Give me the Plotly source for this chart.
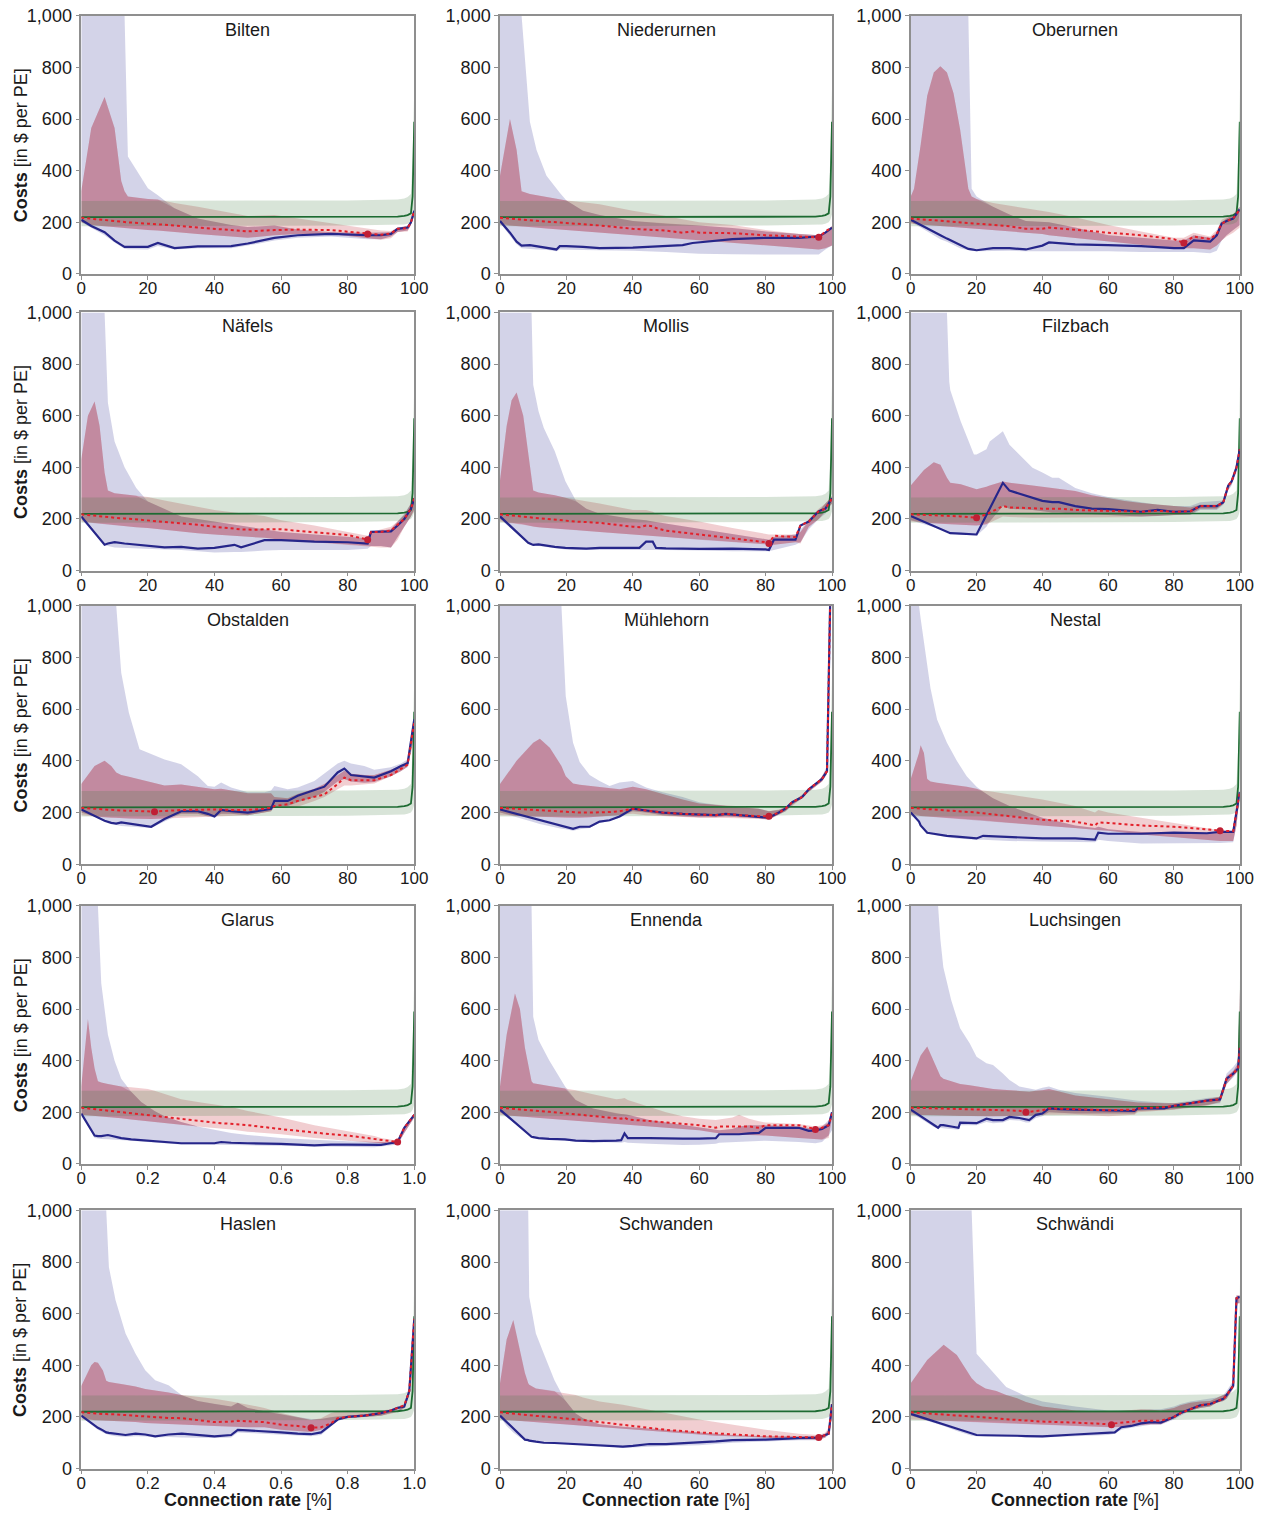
import plotly.graph_objects as go

TOWNS = ["Bilten", "Niederurnen", "Oberurnen", "Näfels", "Mollis", "Filzbach",
         "Obstalden", "Mühlehorn", "Nestal", "Glarus", "Ennenda", "Luchsingen",
         "Haslen", "Schwanden", "Schwändi"]
FRACTION_AXIS = ["Glarus", "Haslen"]

X_TICK_VALS = [0, 20, 40, 60, 80, 100]
X_TICKS_PCT = ["0", "20", "40", "60", "80", "100"]
X_TICKS_FRAC = ["0", "0.2", "0.4", "0.6", "0.8", "1.0"]
Y_TICK_VALS = [0, 200, 400, 600, 800, 1000]
Y_TICKS = ["0", "200", "400", "600", "800", "1,000"]

# connection rate grid (in %) per town
X = {
    "Bilten": [0, 3, 7, 10, 12, 13, 14, 20, 23, 28, 35, 45, 50, 58, 65, 75, 86, 90, 93, 95, 98, 99, 100],
    "Niederurnen": [0, 3, 5, 6.5, 9, 11, 14, 17, 18, 20, 25, 30, 40, 50, 55, 58, 60, 70, 80, 90, 96, 98, 100],
    "Oberurnen": [0, 1, 3, 5, 7, 9, 11, 13, 15, 16.5, 17.5, 18.5, 20, 25, 30, 35, 40, 42, 50, 60, 70, 80, 83, 86, 91, 93, 94.5, 96, 98, 100],
    "Näfels": [0, 2, 4, 5.5, 7, 8, 10, 13, 16.5, 20, 25, 30, 35, 40, 46, 48, 52, 55, 60, 70, 80, 86, 87, 90, 93, 95, 97, 99, 100],
    "Mollis": [0, 2, 3.5, 5, 7, 8.5, 9.5, 10, 11.6, 13.2, 16.5, 19.7, 23, 26, 30, 40, 42, 44, 46, 47, 50, 60, 70, 80, 81, 82.5, 89, 90.5, 93, 96, 98, 100],
    "Filzbach": [0, 4, 7, 9, 11, 11.7, 12, 15.2, 19.2, 20, 23, 24, 28, 30, 37, 40, 43, 45, 50, 55, 60, 65, 70, 75, 80, 85, 88, 93, 95, 96.5, 97.5, 99, 100],
    "Obstalden": [0, 4, 7, 9, 10.5, 12, 14.3, 17.5, 21, 25, 30, 35, 38, 40, 42, 45, 50, 55, 57, 58, 62, 65, 70, 73, 77, 79, 81, 85, 88, 93, 96, 98, 100],
    "Mühlehorn": [0, 5, 10, 12, 15, 18.5, 19.8, 21.5, 22, 24, 27, 30, 33, 36, 40, 44, 49, 55, 60, 65, 68, 72, 78, 81, 84, 86, 88, 91, 93, 95, 97, 98.5, 99.5, 100],
    "Nestal": [0, 2.5, 3, 4, 5, 6, 8, 11, 14, 17, 20, 22, 25, 30, 40, 50, 56, 57, 60, 70, 80, 90, 94, 98, 99, 100],
    "Glarus": [0, 2, 3, 4, 5, 6, 8, 10, 12, 15, 18, 20, 22, 25, 28, 30, 35, 40, 42, 45, 50, 60, 70, 75, 80, 88, 90, 92, 95, 97, 100],
    "Ennenda": [0, 2, 4.5, 6, 7.5, 9.5, 10, 11.6, 14.8, 19.6, 22.8, 28, 35, 36.5, 37.5, 38.5, 45, 50, 55, 60, 65, 66, 70, 72, 75, 78, 80, 90, 93, 95, 97, 99, 100],
    "Luchsingen": [0, 3, 5, 7, 8.3, 9, 9.9, 12.3, 14.5, 15, 17.9, 20, 23, 25, 28, 30, 33, 35, 36, 38, 40, 42, 45, 50, 60, 68, 69, 77, 80, 85, 90, 94, 96, 98, 99.5, 100],
    "Haslen": [0, 3, 4, 5, 6.5, 7.5, 8.3, 10.3, 13.3, 16.3, 19.2, 22.2, 26.2, 30.2, 35, 40, 45, 47, 50, 55, 60, 65, 69, 72, 75, 77, 80, 85, 90, 93, 95, 97, 98.5, 99, 100],
    "Schwanden": [0, 2, 4, 6, 7.5, 8.5, 8.8, 10.8, 13.2, 16.4, 19.6, 22.8, 25, 30, 37, 40, 45, 50, 60, 65, 70, 80, 90, 96, 98, 99, 100],
    "Schwändi": [0, 5, 10, 14, 17, 18.5, 20, 22.7, 26, 29, 32.3, 35, 40, 50, 60, 62, 64, 67, 70, 73, 76, 80, 82, 85, 88, 91, 93, 95, 96, 98, 99, 100],
}

# blue scenario: upper / lower band and central line (costs per PE)
BLUE_HI = {
    "Bilten": [1000, 1000, 1000, 1000, 1000, 1000, 455, 332, 305, 255, 215, 190, 182, 188, 172, 162, 160, 160, 162, 178, 188, 205, 255],
    "Niederurnen": [1000, 1000, 1000, 1000, 590, 480, 380, 330, 315, 285, 245, 228, 205, 195, 192, 190, 188, 178, 165, 155, 150, 160, 185],
    "Oberurnen": [1000, 1000, 1000, 1000, 1000, 1000, 1000, 1000, 1000, 1000, 1000, 330, 300, 260, 230, 205, 200, 200, 180, 150, 140, 130, 130, 150, 140, 160, 200, 215, 230, 260],
    "Näfels": [1000, 1000, 1000, 1000, 1000, 650, 500, 400, 320, 268, 240, 210, 200, 190, 178, 175, 168, 160, 150, 140, 130, 125, 150, 155, 160, 190, 220, 260, 285],
    "Mollis": [1000, 1000, 1000, 1000, 1000, 1000, 1000, 720, 617, 552, 462, 346, 268, 240, 220, 200, 198, 195, 190, 188, 180, 160, 140, 120, 120, 130, 140, 160, 190, 230, 260, 285],
    "Filzbach": [1000, 1000, 1000, 1000, 1000, 733, 700, 578, 450, 450, 470, 500, 540, 488, 398, 380, 360, 360, 320, 300, 285, 275, 265, 255, 250, 250, 265, 268, 272, 330, 350, 410, 480],
    "Obstalden": [1000, 1000, 1000, 1000, 1000, 740, 586, 445, 425, 405, 387, 340, 303, 300, 316, 297, 278, 278, 285, 303, 290, 297, 322, 350, 390, 400, 390, 380, 365, 375, 390, 406, 580],
    "Mühlehorn": [1000, 1000, 1000, 1000, 1000, 1000, 650, 496, 470, 395, 345, 322, 303, 316, 322, 297, 278, 260, 240, 230, 225, 220, 215, 205, 210, 220, 240, 265, 285, 305, 340, 380, 1000, 1000],
    "Nestal": [1000, 1000, 950, 860, 770, 680, 560, 470, 400, 340, 300, 280, 255, 225, 180, 150, 140, 145, 135, 125, 120, 120, 120, 125, 200, 285],
    "Glarus": [1000, 1000, 1000, 1000, 1000, 700, 500, 400, 330, 280, 240, 222, 205, 185, 170, 162, 145, 132, 128, 120, 112, 100, 94, 90, 88, 85, 85, 85, 88, 130, 195],
    "Ennenda": [1000, 1000, 1000, 1000, 1000, 1000, 570, 480, 402, 300, 248, 215, 195, 193, 192, 190, 170, 160, 150, 140, 130, 130, 135, 145, 150, 150, 150, 145, 140, 135, 145, 170, 205],
    "Luchsingen": [1000, 1000, 1000, 1000, 1000, 870, 762, 634, 540, 525, 467, 415, 390, 383, 350, 325, 300, 295, 293, 287, 295, 300, 287, 275, 260, 245, 245, 237, 235, 245, 255, 260, 350, 375, 400, 680],
    "Haslen": [1000, 1000, 1000, 1000, 1000, 1000, 780, 652, 523, 445, 381, 342, 323, 284, 262, 250, 240, 255, 235, 222, 210, 200, 192, 192, 200, 203, 205, 210, 215, 220, 225, 240, 300, 400, 600],
    "Schwanden": [1000, 1000, 1000, 1000, 1000, 1000, 665, 523, 445, 342, 265, 213, 195, 172, 162, 160, 155, 150, 140, 135, 130, 125, 125, 125, 135, 150, 250],
    "Schwändi": [1000, 1000, 1000, 1000, 1000, 1000, 445, 406, 355, 316, 297, 280, 260, 240, 225, 225, 225, 226, 228, 230, 230, 240, 250, 260, 265, 270, 275, 285, 300, 340, 670, 670],
}
BLUE_LO = {
    "Bilten": [200, 178, 150, 122, 108, 98, 96, 95, 108, 95, 100, 100, 110, 130, 140, 145, 135, 135, 145, 163, 168, 190, 230],
    "Niederurnen": [198, 150, 115, 100, 96, 95, 94, 88, 95, 95, 93, 92, 90, 85, 82, 80, 78, 76, 75, 75, 75, 95, 110],
    "Oberurnen": [200, 195, 180, 165, 150, 135, 125, 112, 100, 95, 92, 90, 88, 90, 90, 88, 88, 90, 90, 88, 85, 85, 85, 85, 80, 90, 130, 150, 170, 190],
    "Näfels": [200, 170, 140, 120, 100, 95, 90, 88, 86, 85, 82, 80, 75, 70, 72, 72, 75, 78, 80, 80, 80, 85, 95, 95, 90, 130, 170, 210, 240],
    "Mollis": [200, 178, 160, 145, 122, 105, 100, 98, 95, 92, 88, 82, 80, 80, 80, 80, 80, 82, 80, 80, 80, 78, 75, 75, 75, 80, 100, 110, 160, 200, 220, 260],
    "Filzbach": [195, 180, 168, 160, 150, 147, 145, 140, 135, 135, 170, 190, 250, 240, 235, 230, 225, 225, 220, 218, 215, 213, 210, 212, 215, 215, 235, 235, 255, 310, 330, 380, 440],
    "Obstalden": [200, 185, 170, 160, 152, 148, 146, 143, 140, 165, 195, 195, 185, 180, 195, 195, 190, 200, 205, 225, 225, 240, 260, 280, 320, 330, 320, 315, 318, 340, 360, 375, 500],
    "Mühlehorn": [200, 180, 163, 156, 146, 137, 135, 132, 130, 135, 140, 160, 168, 180, 205, 200, 190, 185, 182, 182, 185, 182, 178, 173, 192, 205, 230, 255, 280, 300, 320, 350, 1000, 1000],
    "Nestal": [200, 160, 150, 135, 120, 115, 110, 105, 100, 97, 95, 95, 93, 90, 88, 85, 85, 95, 90, 80, 80, 80, 82, 85, 150, 270],
    "Glarus": [190, 150, 125, 100, 98, 97, 96, 95, 92, 90, 87, 85, 82, 80, 77, 75, 75, 75, 75, 73, 72, 70, 68, 67, 65, 65, 67, 70, 75, 120, 180],
    "Ennenda": [200, 180, 155, 140, 125, 105, 103, 100, 95, 90, 88, 85, 82, 82, 85, 82, 78, 75, 73, 74, 78, 82, 85, 85, 88, 90, 90, 85, 82, 80, 85, 110, 130],
    "Luchsingen": [200, 175, 158, 143, 137, 140, 138, 135, 132, 150, 150, 150, 162, 158, 160, 170, 168, 160, 160, 178, 185, 200, 198, 195, 195, 195, 205, 210, 212, 220, 228, 235, 310, 335, 360, 380],
    "Haslen": [200, 170, 160, 150, 140, 135, 130, 125, 122, 125, 124, 120, 122, 120, 118, 118, 120, 140, 138, 135, 130, 127, 125, 130, 165, 185, 195, 200, 205, 215, 220, 235, 290, 380, 550],
    "Schwanden": [200, 165, 140, 120, 112, 110, 108, 104, 100, 98, 95, 93, 92, 90, 80, 82, 85, 87, 90, 95, 100, 105, 110, 110, 120, 130, 200],
    "Schwändi": [205, 185, 165, 145, 132, 127, 125, 124, 123, 122, 121, 120, 120, 125, 130, 135, 150, 158, 165, 170, 170, 190, 205, 225, 235, 240, 255, 262, 270, 310, 640, 640],
}
BLUE_MID = {
    "Bilten": [210, 186, 162, 129, 113, 105, 105, 105, 120, 100, 107, 108, 118, 140, 150, 155, 150, 150, 155, 175, 180, 200, 245],
    "Niederurnen": [205, 160, 125, 110, 112, 108, 103, 95, 108, 108, 105, 100, 102, 108, 112, 120, 122, 135, 140, 140, 145, 160, 180],
    "Oberurnen": [210, 203, 190, 177, 163, 150, 137, 125, 112, 103, 97, 95, 92, 100, 100, 95, 110, 122, 115, 112, 108, 100, 100, 130, 125, 150, 195, 205, 215, 250],
    "Näfels": [210, 178, 147, 123, 100, 105, 110, 105, 100, 95, 90, 92, 85, 88, 100, 90, 105, 118, 118, 112, 110, 105, 150, 150, 152, 175, 200, 240, 280],
    "Mollis": [210, 186, 168, 151, 126, 108, 102, 100, 102, 98, 92, 88, 86, 85, 88, 88, 88, 112, 112, 88, 86, 84, 85, 82, 80, 120, 120, 175, 190, 230, 240, 280],
    "Filzbach": [212, 190, 174, 163, 152, 148, 145, 143, 140, 140, 215, 240, 340, 310, 280, 270, 265, 265, 250, 240, 238, 232, 228, 235, 228, 230, 250, 250, 265, 330, 345, 400, 470],
    "Obstalden": [212, 185, 168, 160, 157, 162, 157, 150, 145, 175, 205, 205, 195, 185, 210, 205, 200, 210, 215, 245, 245, 265, 285, 300, 355, 370, 345, 340, 335, 360, 380, 390, 560],
    "Mühlehorn": [212, 195, 178, 171, 161, 149, 145, 139, 137, 145, 145, 165, 170, 185, 215, 208, 200, 195, 192, 190, 195, 190, 185, 180, 200, 215, 240, 260, 290, 310, 330, 360, 1050, 1100],
    "Nestal": [200, 165, 150, 135, 122, 120, 115, 110, 107, 103, 100, 110, 108, 105, 100, 100, 95, 122, 118, 118, 122, 120, 125, 125, 200, 280],
    "Glarus": [195, 150, 130, 110, 108, 108, 112, 105, 100, 95, 92, 90, 87, 85, 82, 80, 80, 80, 85, 82, 80, 78, 72, 75, 75, 72, 74, 78, 85, 140, 190],
    "Ennenda": [210, 188, 160, 143, 126, 105, 104, 100, 97, 95, 90, 88, 90, 92, 118, 100, 100, 98, 98, 98, 100, 115, 115, 115, 118, 120, 140, 140, 128, 130, 135, 150, 200],
    "Luchsingen": [210, 185, 168, 151, 140, 150, 150, 145, 140, 160, 158, 158, 175, 170, 170, 182, 178, 172, 170, 190, 195, 215, 212, 210, 208, 205, 215, 215, 225, 235, 245, 250, 330, 350, 370, 450],
    "Haslen": [205, 175, 165, 158, 148, 140, 138, 135, 130, 135, 132, 125, 132, 135, 130, 125, 130, 150, 148, 145, 140, 135, 133, 140, 170, 190, 200, 205, 215, 225, 235, 240, 300, 400, 580],
    "Schwanden": [205, 180, 155, 130, 112, 110, 108, 104, 100, 99, 97, 96, 95, 92, 85, 88, 95, 95, 100, 105, 110, 112, 118, 120, 130, 135, 250],
    "Schwändi": [212, 192, 171, 155, 142, 136, 130, 129, 129, 128, 127, 126, 125, 132, 138, 140, 160, 165, 175, 180, 178, 200, 215, 230, 245, 250, 260, 270, 285, 320, 660, 665],
}

# red scenario: upper / lower band and dotted central line
RED_HI = {
    "Bilten": [320, 565, 685, 565, 360, 320, 300, 290, 288, 275, 260, 235, 225, 228, 215, 195, 175, 168, 166, 180, 186, 205, 252],
    "Niederurnen": [380, 600, 480, 320, 310, 305, 298, 292, 290, 285, 278, 270, 245, 225, 212, 205, 200, 190, 170, 155, 150, 160, 185],
    "Oberurnen": [300, 330, 500, 690, 780, 805, 780, 700, 560, 420, 330, 300, 290, 275, 265, 255, 245, 240, 220, 190, 165, 140, 140, 160, 145, 170, 210, 220, 230, 260],
    "Näfels": [430, 600, 655, 560, 380, 310, 300, 295, 290, 285, 272, 260, 248, 235, 225, 222, 216, 212, 195, 175, 150, 135, 150, 160, 170, 190, 215, 260, 290],
    "Mollis": [350, 560, 660, 690, 600, 450, 340, 310, 303, 300, 292, 282, 275, 268, 260, 235, 235, 235, 228, 220, 212, 190, 165, 140, 140, 140, 140, 150, 200, 240, 260, 290],
    "Filzbach": [330, 390, 420, 410, 360, 345, 340, 335, 318, 315, 325, 330, 345, 340, 330, 325, 320, 318, 308, 292, 280, 270, 262, 255, 250, 245, 255, 255, 270, 320, 340, 400, 480],
    "Obstalden": [310, 380, 400, 380, 355, 345, 338, 328, 318, 305, 308, 300, 295, 290, 292, 285, 275, 275, 275, 260, 255, 272, 292, 310, 345, 362, 350, 345, 345, 365, 382, 398, 560],
    "Mühlehorn": [310, 400, 470, 485, 450, 380, 340, 318, 312, 307, 303, 300, 295, 290, 300, 290, 272, 250, 235, 230, 228, 224, 215, 205, 212, 220, 240, 268, 290, 310, 340, 370, 1000, 1000],
    "Nestal": [330, 430, 460, 430, 330, 320, 315, 310, 305, 300, 292, 285, 280, 270, 250, 225, 200, 210, 200, 180, 160, 140, 132, 130, 200, 280],
    "Glarus": [300, 560, 450, 370, 320, 315, 310, 305, 300, 297, 293, 290, 283, 270, 258, 250, 240, 230, 226, 220, 205, 180, 150, 138, 125, 108, 100, 97, 90, 140, 195],
    "Ennenda": [300, 500, 660, 600, 450, 320, 312, 308, 302, 292, 285, 270, 250, 252, 255, 248, 220, 200, 185, 175, 170, 172, 180, 190, 175, 165, 160, 155, 150, 145, 150, 160, 200],
    "Luchsingen": [320, 420, 455, 400, 360, 340, 330, 320, 312, 310, 305, 300, 293, 290, 287, 285, 282, 280, 280, 283, 285, 290, 280, 265, 250, 240, 238, 235, 235, 240, 250, 260, 340, 360, 390, 680],
    "Haslen": [320, 400, 413, 410, 380, 340, 335, 330, 325, 318, 308, 302, 295, 285, 278, 270, 260, 255, 250, 235, 215, 200, 188, 195, 215, 222, 225, 225, 225, 230, 235, 250, 310, 400, 580],
    "Schwanden": [330, 500, 575, 450, 370, 330, 325, 310, 305, 300, 292, 285, 275, 260, 247, 240, 228, 215, 190, 180, 170, 150, 135, 130, 140, 160, 250],
    "Schwändi": [330, 420, 480, 440, 380, 350, 330, 310, 300, 285, 272, 258, 240, 225, 220, 222, 224, 227, 230, 228, 225, 235, 245, 255, 260, 262, 275, 285, 290, 330, 670, 670],
}
RED_LO = {
    "Bilten": [200, 190, 185, 181, 179, 178, 177, 170, 168, 162, 155, 145, 140, 150, 155, 155, 138, 133, 138, 163, 165, 190, 225],
    "Niederurnen": [190, 188, 186, 184, 182, 180, 176, 173, 172, 170, 165, 160, 150, 140, 135, 132, 130, 120, 110, 100, 95, 100, 110],
    "Oberurnen": [195, 194, 192, 190, 188, 186, 184, 181, 179, 178, 177, 176, 175, 170, 165, 160, 155, 150, 140, 125, 115, 100, 100, 100, 95, 110, 130, 145, 160, 180],
    "Näfels": [190, 187, 184, 182, 180, 178, 175, 172, 168, 165, 158, 150, 145, 140, 135, 133, 130, 127, 120, 110, 100, 95, 95, 90, 90, 120, 170, 210, 230],
    "Mollis": [190, 187, 185, 183, 180, 175, 172, 170, 168, 166, 163, 160, 157, 153, 150, 140, 138, 136, 134, 133, 130, 120, 110, 100, 100, 100, 110, 105, 170, 200, 230, 260],
    "Filzbach": [190, 186, 183, 181, 180, 180, 180, 178, 176, 175, 180, 185, 210, 208, 205, 205, 205, 205, 205, 205, 205, 207, 210, 212, 215, 218, 240, 240, 258, 315, 335, 390, 460],
    "Obstalden": [190, 185, 182, 180, 180, 178, 177, 176, 175, 177, 180, 182, 184, 185, 187, 188, 190, 200, 205, 220, 220, 222, 245, 260, 290, 305, 305, 310, 312, 340, 360, 378, 480],
    "Mühlehorn": [190, 187, 185, 184, 182, 180, 180, 180, 180, 180, 182, 185, 188, 190, 195, 190, 186, 182, 180, 180, 180, 178, 175, 173, 192, 205, 225, 255, 280, 300, 320, 350, 1000, 1000],
    "Nestal": [190, 188, 187, 186, 185, 184, 183, 181, 178, 175, 172, 170, 166, 160, 150, 140, 132, 132, 130, 115, 105, 95, 90, 90, 150, 270],
    "Glarus": [190, 188, 187, 186, 185, 184, 182, 180, 177, 172, 168, 165, 162, 157, 153, 150, 145, 140, 138, 133, 125, 115, 100, 95, 90, 82, 80, 78, 75, 120, 180],
    "Ennenda": [190, 188, 186, 184, 183, 181, 180, 178, 175, 170, 167, 163, 155, 154, 153, 152, 145, 140, 135, 130, 120, 119, 115, 113, 112, 111, 110, 100, 97, 95, 95, 100, 180],
    "Luchsingen": [190, 189, 189, 188, 188, 188, 188, 187, 186, 186, 186, 185, 185, 185, 185, 185, 185, 186, 187, 188, 190, 190, 190, 190, 185, 190, 200, 208, 210, 218, 225, 240, 310, 340, 360, 400],
    "Haslen": [190, 188, 187, 187, 186, 186, 186, 185, 182, 180, 176, 174, 172, 170, 168, 165, 162, 160, 160, 160, 150, 145, 142, 150, 170, 190, 198, 200, 205, 212, 220, 235, 280, 320, 500],
    "Schwanden": [190, 188, 186, 184, 182, 181, 181, 180, 178, 174, 170, 167, 165, 160, 153, 150, 145, 140, 130, 127, 125, 120, 115, 112, 120, 140, 200],
    "Schwändi": [190, 187, 185, 183, 182, 181, 180, 178, 177, 175, 174, 173, 170, 165, 160, 160, 162, 166, 170, 172, 172, 195, 210, 225, 235, 240, 255, 262, 270, 310, 640, 640],
}
RED_MID = {
    "Bilten": [218, 214, 209, 205, 203, 201, 200, 195, 193, 188, 180, 170, 165, 170, 172, 170, 155, 152, 157, 175, 178, 200, 245],
    "Niederurnen": [218, 214, 212, 210, 208, 206, 203, 200, 199, 198, 193, 188, 175, 168, 160, 165, 160, 158, 150, 145, 142, 165, 180],
    "Oberurnen": [215, 214, 212, 210, 208, 205, 203, 201, 199, 198, 197, 196, 195, 190, 185, 175, 175, 180, 170, 160, 150, 135, 120, 145, 135, 155, 195, 205, 215, 250],
    "Näfels": [218, 215, 213, 211, 208, 207, 205, 202, 198, 195, 190, 185, 178, 170, 162, 160, 158, 160, 160, 150, 138, 120, 150, 150, 155, 178, 200, 240, 280],
    "Mollis": [218, 216, 214, 212, 210, 207, 206, 205, 203, 201, 197, 194, 190, 188, 185, 170, 168, 175, 172, 165, 155, 140, 125, 110, 105, 135, 130, 175, 190, 230, 240, 280],
    "Filzbach": [218, 216, 215, 215, 214, 214, 214, 210, 206, 205, 218, 225, 250, 245, 240, 240, 240, 240, 235, 233, 232, 230, 228, 232, 228, 230, 250, 250, 265, 330, 345, 400, 470],
    "Obstalden": [218, 214, 212, 211, 210, 208, 207, 206, 204, 206, 210, 211, 212, 212, 212, 210, 210, 215, 218, 225, 232, 245, 260, 270, 310, 335, 325, 325, 325, 345, 370, 385, 550],
    "Mühlehorn": [218, 214, 210, 208, 206, 203, 202, 201, 200, 200, 200, 200, 202, 205, 215, 208, 200, 195, 192, 190, 195, 190, 186, 185, 200, 215, 240, 260, 290, 310, 330, 360, 1050, 1100],
    "Nestal": [218, 216, 215, 214, 213, 212, 211, 209, 206, 203, 200, 197, 193, 185, 172, 165, 150, 162, 160, 150, 145, 135, 130, 128, 200, 280],
    "Glarus": [218, 215, 214, 212, 210, 209, 206, 203, 200, 196, 192, 190, 187, 182, 178, 175, 168, 160, 158, 155, 150, 135, 120, 115, 110, 98, 95, 92, 85, 140, 190],
    "Ennenda": [218, 216, 213, 212, 211, 210, 209, 207, 202, 196, 192, 187, 177, 175, 180, 172, 166, 160, 155, 150, 140, 145, 145, 145, 145, 140, 150, 150, 140, 135, 140, 150, 195],
    "Luchsingen": [218, 217, 217, 216, 216, 215, 215, 214, 213, 213, 212, 210, 210, 209, 208, 208, 206, 200, 202, 205, 208, 215, 213, 212, 208, 210, 215, 220, 225, 235, 245, 250, 330, 350, 370, 450],
    "Haslen": [218, 214, 213, 212, 211, 211, 211, 210, 207, 204, 201, 198, 196, 195, 188, 180, 182, 185, 183, 180, 170, 165, 158, 160, 175, 195, 200, 205, 215, 225, 235, 245, 300, 400, 580],
    "Schwanden": [218, 215, 213, 210, 208, 206, 206, 204, 202, 198, 195, 192, 188, 180, 170, 165, 160, 150, 140, 136, 132, 125, 122, 120, 130, 135, 250],
    "Schwändi": [218, 214, 210, 206, 203, 202, 200, 198, 195, 191, 188, 186, 182, 178, 172, 175, 178, 182, 185, 185, 185, 200, 215, 230, 245, 250, 260, 270, 285, 320, 660, 665],
}

# optimum (minimum of the dotted curve)
MIN_X = {"Bilten": 86, "Niederurnen": 96, "Oberurnen": 83, "Näfels": 86, "Mollis": 81,
         "Filzbach": 20, "Obstalden": 22, "Mühlehorn": 81, "Nestal": 94, "Glarus": 95,
         "Ennenda": 95, "Luchsingen": 35, "Haslen": 69, "Schwanden": 96, "Schwändi": 61}
MIN_Y = {"Bilten": 155, "Niederurnen": 142, "Oberurnen": 120, "Näfels": 120, "Mollis": 105,
         "Filzbach": 205, "Obstalden": 203, "Mühlehorn": 186, "Nestal": 130, "Glarus": 85,
         "Ennenda": 133, "Luchsingen": 200, "Haslen": 158, "Schwanden": 120, "Schwändi": 170}

# green scenario (identical in every panel)
GREEN_X = [0, 20, 40, 48, 60, 80, 95, 97, 98, 99, 99.5, 100]
GREEN_MID = [220, 220, 220, 222, 222, 222, 222, 225, 228, 235, 300, 590]
GREEN_LO = [185, 185, 185, 186, 187, 188, 190, 192, 195, 200, 210, 230]
GREEN_HI = [283, 283, 283, 284, 285, 285, 288, 292, 298, 310, 450, 720]

# ---------------------------------------------------------------- styling
W, H = 1269, 1518
# the photographed page comes out slightly shrunk and shifted; these constants
# map the wanted picture positions back to figure pixels
SHRINK, SHIFT_X, SHIFT_Y = 0.988, 2.5, 8.2
# wanted panel edges in picture pixels
COL_L = [79, 499, 911]
COL_R = [413, 832, 1241]
ROW_T = [14, 311, 604.5, 905, 1210]
ROW_B = [272.5, 569.5, 863.5, 1163.5, 1468.5]


def fx(p):
    return (p - SHIFT_X) / SHRINK


def fy(p):
    return (p - SHIFT_Y) / SHRINK


def px_x(p):
    return fx(p) / W


def px_y(p):
    return 1 - fy(p) / H


FONT = "Liberation Sans, Arial, Helvetica, sans-serif"
TXT = "#1a1a1a"
AXC = "#8f8f8f"
LAV = "rgba(120,120,185,0.33)"
PINK = "rgba(200,60,70,0.25)"
MAUVE = "rgba(150,30,60,0.24)"
GREENF = "rgba(60,120,60,0.20)"
NAVY = "#26268a"
RED = "#e3202a"
DGREEN = "#1d6b32"
DOT = "#c01f35"

fig = go.Figure()
layout = dict(width=W, height=H, margin=dict(l=0, r=0, t=0, b=0),
              paper_bgcolor="white", plot_bgcolor="white", showlegend=False,
              font=dict(family=FONT, size=18, color=TXT))
annotations = []

for i, town in enumerate(TOWNS):
    r, c = divmod(i, 3)
    n = "" if i == 0 else str(i + 1)
    xa, ya = "x" + n, "y" + n
    xs = X[town]

    def add(x, y, **kw):
        fig.add_trace(go.Scatter(x=x, y=y, xaxis=xa, yaxis=ya, showlegend=False,
                                 hoverinfo="skip", **kw))

    add(xs, BLUE_LO[town], mode="lines", line=dict(width=0, color=LAV))
    add(xs, BLUE_HI[town], mode="lines", line=dict(width=0, color=LAV),
        fill="tonexty", fillcolor=LAV)
    add(xs, RED_LO[town], mode="lines", line=dict(width=0, color=PINK))
    add(xs, RED_HI[town], mode="lines", line=dict(width=0, color=PINK),
        fill="tonexty", fillcolor=PINK)
    ov_lo = [max(a, b) for a, b in zip(RED_LO[town], BLUE_LO[town])]
    ov_hi = [max(l, min(a, b)) for l, a, b in zip(ov_lo, RED_HI[town], BLUE_HI[town])]
    add(xs, ov_lo, mode="lines", line=dict(width=0, color=MAUVE))
    add(xs, ov_hi, mode="lines", line=dict(width=0, color=MAUVE),
        fill="tonexty", fillcolor=MAUVE)
    add(GREEN_X, GREEN_LO, mode="lines", line=dict(width=0, color=GREENF))
    add(GREEN_X, GREEN_HI, mode="lines", line=dict(width=0, color=GREENF),
        fill="tonexty", fillcolor=GREENF)
    add(GREEN_X, GREEN_MID, mode="lines", line=dict(width=1.8, color=DGREEN))
    add(xs, BLUE_MID[town], mode="lines", line=dict(width=2.2, color=NAVY))
    add(xs, RED_MID[town], mode="lines", line=dict(width=2, color=RED, dash="dot"))
    add([MIN_X[town]], [MIN_Y[town]], mode="markers",
        marker=dict(size=7, color=DOT))

    ticktext = X_TICKS_FRAC if town in FRACTION_AXIS else X_TICKS_PCT
    layout["xaxis" + n] = dict(
        domain=[px_x(COL_L[c]), px_x(COL_R[c])], range=[0, 100], anchor=ya,
        tickvals=X_TICK_VALS, ticktext=ticktext, showline=True, mirror=True,
        linecolor=AXC, linewidth=1.5, ticks="outside", ticklen=4, tickcolor=AXC,
        ticklabelstandoff=-6,
        showgrid=False, zeroline=False, tickfont=dict(size=17, color=TXT, family=FONT))
    layout["yaxis" + n] = dict(
        domain=[px_y(ROW_B[r]), px_y(ROW_T[r])], range=[0, 1000], anchor=xa,
        tickvals=Y_TICK_VALS, ticktext=Y_TICKS, showline=True, mirror=True,
        linecolor=AXC, linewidth=1.5, ticks="outside", ticklen=4, tickcolor=AXC,
        showgrid=False, zeroline=False, tickfont=dict(size=18, color=TXT, family=FONT))

    annotations.append(dict(text=town, x=px_x((COL_L[c] + COL_R[c]) / 2),
                            y=px_y(ROW_T[r] + 14), xref="paper", yref="paper",
                            xanchor="center", yanchor="middle", showarrow=False,
                            font=dict(size=18, color=TXT, family=FONT)))

for r in range(5):
    annotations.append(dict(text="<b>Costs</b> [in $ per PE]", x=px_x(18),
                            y=px_y((ROW_T[r] + ROW_B[r]) / 2), xref="paper", yref="paper",
                            xanchor="center", yanchor="middle", textangle=-90,
                            showarrow=False, font=dict(size=18, color=TXT, family=FONT)))
for c in range(3):
    annotations.append(dict(text="<b>Connection rate</b> [%]",
                            x=px_x((COL_L[c] + COL_R[c]) / 2),
                            y=px_y(1500), xref="paper", yref="paper",
                            xanchor="center", yanchor="middle", showarrow=False,
                            font=dict(size=18, color=TXT, family=FONT)))

layout["annotations"] = annotations
fig.update_layout(**layout)

PIN = ("var gd=document.getElementById('{plot_id}');"
       "gd.style.position='fixed';gd.style.left='0px';gd.style.top='0px';"
       "document.body.style.margin='0px';"
       "document.documentElement.style.overflow='hidden';"
       "document.body.style.overflow='hidden';")
fig.write_html("out.html", config={"displayModeBar": False}, post_script=PIN)
